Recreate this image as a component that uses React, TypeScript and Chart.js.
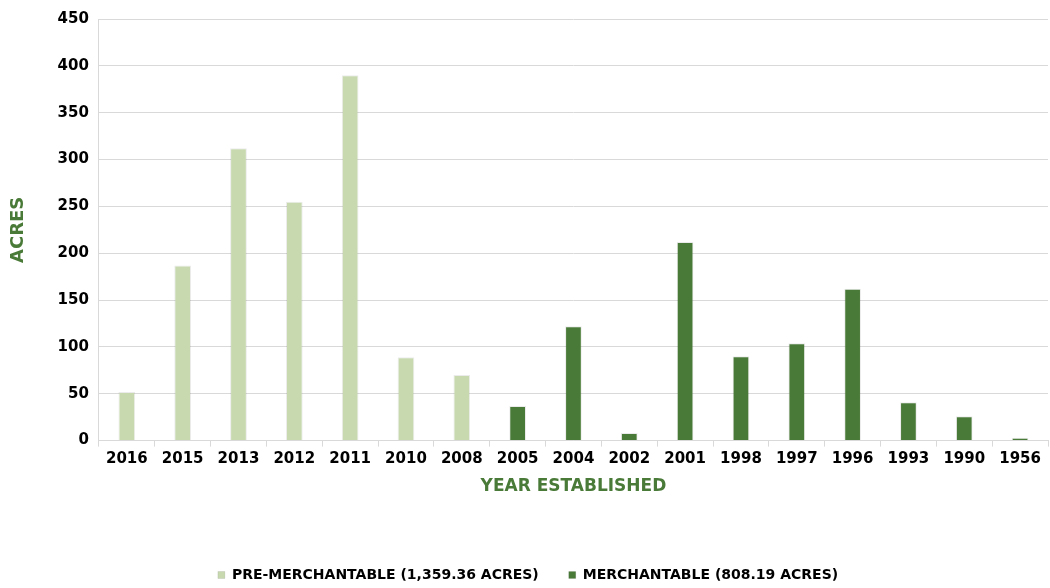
import React, { useEffect, useRef } from "react";
import { Chart, registerables } from "chart.js";

Chart.register(...registerables);

const categories = ["2016", "2015", "2013", "2012", "2011", "2010", "2008", "2005", "2004", "2002", "2001", "1998", "1997", "1996", "1993", "1990", "1956"];
const preMerchantable = [52, 187, 312, 255, 390, 89, 70, null, null, null, null, null, null, null, null, null, null];
const merchantable = [null, null, null, null, null, null, null, 37, 122, 8, 212, 90, 104, 162, 41, 26, 3];
const seriesLabels = ["PRE-MERCHANTABLE (1,359.36 ACRES)", "MERCHANTABLE (808.19 ACRES)"];
const yTicksMax = 450;
const yStep = 50;

const GREEN = "#4a7a38";
const LIGHT = "#c8d9b0";
const FONT = "'DejaVu Sans', sans-serif";

export default function App() {
  const ref = useRef<HTMLCanvasElement | null>(null);
  useEffect(() => {
    if (!ref.current) return;
    const chart = new Chart(ref.current, {
      type: "bar",
      data: {
        labels: categories,
        datasets: [
          {
            label: seriesLabels[0],
            data: preMerchantable as any,
            backgroundColor: LIGHT,
            borderColor: "rgba(0,0,0,0.08)",
            borderWidth: 1,
            barPercentage: 0.3,
            categoryPercentage: 1,
          },
          {
            label: seriesLabels[1],
            data: merchantable as any,
            backgroundColor: GREEN,
            borderColor: "rgba(0,0,0,0.08)",
            borderWidth: 1,
            barPercentage: 0.3,
            categoryPercentage: 1,
          },
        ],
      },
      options: {
        animation: false,
        responsive: true,
        maintainAspectRatio: false,
        layout: { padding: { top: -3, right: 2, left: 8, bottom: -4 } },
        scales: {
          x: {
            stacked: true,
            grid: { display: true, drawOnChartArea: false, color: "#d9d9d9", tickLength: 6, offset: true },
            border: { color: "#d9d9d9" },
            ticks: { color: "#000", font: { family: FONT, weight: "bold", size: 15 }, padding: 4, maxRotation: 0, autoSkip: false },
            title: {
              display: true,
              text: "YEAR ESTABLISHED",
              color: GREEN,
              font: { family: FONT, weight: "bold", size: 17 },
              padding: { top: 4, bottom: 41 },
            },
          },
          y: {
            stacked: true,
            min: 0,
            max: yTicksMax,
            ticks: { stepSize: yStep, color: "#000", font: { family: FONT, weight: "bold", size: 15 }, padding: 10 },
            grid: { color: "#d9d9d9", drawTicks: false },
            border: { color: "#d9d9d9" },
            title: {
              display: true,
              text: "ACRES",
              color: GREEN,
              font: { family: FONT, weight: "bold", size: 18 },
              padding: { top: 0, bottom: 18 },
            },
          },
        },
        plugins: {
          legend: {
            position: "bottom",
            labels: {
              boxWidth: 7,
              boxHeight: 7,
              color: "#000",
              font: { family: FONT, weight: "bold", size: 14 },
              padding: 30,
            },
          },
          tooltip: { enabled: false },
        },
      },
    });
    return () => chart.destroy();
  }, []);
  return (
    <div style={{ position: "fixed", left: 0, top: 0, width: 1050, height: 588, background: "#fff" }}>
      <canvas ref={ref} />
    </div>
  );
}
